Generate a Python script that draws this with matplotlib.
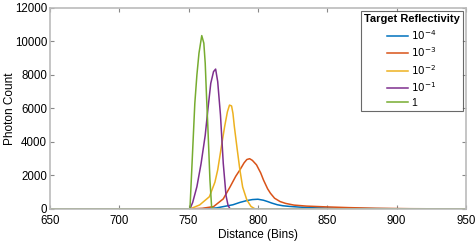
import matplotlib.pyplot as plt

plt.rcParams['font.family'] = ['Liberation Sans', 'DejaVu Sans']

# values (bins, photon counts)
X_BLUE = [650, 750, 760, 770, 782, 787, 792, 796, 800, 804, 807, 810, 814, 818, 823, 830, 840, 860, 880, 900, 950]
Y_BLUE = [0, 0, 10, 60, 250, 390, 500, 560, 580, 520, 440, 350, 250, 190, 150, 110, 70, 35, 20, 10, 0]

X_ORANGE = [650, 750, 760, 768, 775, 780, 784, 787, 790, 792, 794, 796, 799, 802, 804, 807, 809, 812, 816, 820, 826, 835, 847, 865, 885, 910, 950]
Y_ORANGE = [0, 0, 40, 140, 600, 1330, 1950, 2330, 2750, 2950, 3000, 2900, 2630, 2150, 1730, 1200, 940, 640, 440, 330, 230, 170, 130, 80, 40, 15, 0]

X_YELLOW = [650, 751, 758, 765, 769, 771, 774, 776, 778, 779.5, 781, 782, 783, 785, 787, 789, 792, 795, 798, 950]
Y_YELLOW = [0, 0, 240, 730, 1600, 2330, 3900, 4920, 5800, 6200, 6150, 5700, 4920, 3600, 2330, 1300, 540, 150, 0, 0]

X_PURPLE = [650, 751, 753, 756, 759, 762, 764, 766, 768, 769.5, 771, 773, 775, 777, 778.5, 780, 950]
Y_PURPLE = [0, 0, 400, 1330, 2700, 4400, 6000, 7500, 8200, 8350, 7600, 5600, 2730, 800, 200, 0, 0]

X_GREEN = [650, 751, 752, 753.5, 754.5, 756, 757.5, 759.5, 761, 762, 763, 764, 765.4, 766.6, 768, 950]
Y_GREEN = [0, 0, 1800, 4500, 6300, 8000, 9300, 10350, 9900, 8700, 6600, 4700, 1730, 140, 0, 0]

LABELS = ['$10^{-4}$', '$10^{-3}$', '$10^{-2}$', '$10^{-1}$', '1']
COLORS = ['#0072bd', '#d95319', '#edb120', '#7e2f8e', '#77ac30']

fig = plt.figure(figsize=(4.75, 2.41), dpi=100)
ax = fig.add_axes([0.105, 0.133, 0.876, 0.834])

series = [(X_BLUE, Y_BLUE), (X_ORANGE, Y_ORANGE), (X_YELLOW, Y_YELLOW), (X_PURPLE, Y_PURPLE), (X_GREEN, Y_GREEN)]
for (xs, ys), lab, c in zip(series, LABELS, COLORS):
    ax.plot(xs, ys, color=c, lw=1.1, label=lab)

ax.set_xlim(650, 950)
ax.set_ylim(0, 12000)
ax.set_xticks(range(650, 951, 50))
ax.set_yticks(range(0, 12001, 2000))
ax.tick_params(direction='in', length=3, labelsize=8.3, color='#888888', top=True, right=True,
               labeltop=False, labelright=False)
ax.tick_params(axis='x', pad=4)
ax.tick_params(axis='y', pad=2)
for s in ax.spines.values():
    s.set_color('#bbbbbb')
    s.set_linewidth(1.2)
ax.set_xlabel('Distance (Bins)', fontsize=8.5, va='center')
ax.set_ylabel('Photon Count', fontsize=8.5, va='center')
ax.xaxis.set_label_coords(0.5, -0.128)
ax.yaxis.set_label_coords(-0.095, 0.5)

leg = ax.legend(title='Target Reflectivity', loc='upper right', fontsize=7.5, title_fontsize=8,
                frameon=True, fancybox=False, edgecolor='#444444', handlelength=2.0,
                borderaxespad=0.3, labelspacing=0.35, handletextpad=0.3, borderpad=0.3)
leg.get_title().set_fontweight('bold')
leg.get_frame().set_linewidth(0.8)
leg._legend_box.align = 'center'

fig.savefig('out.png', dpi=100)
